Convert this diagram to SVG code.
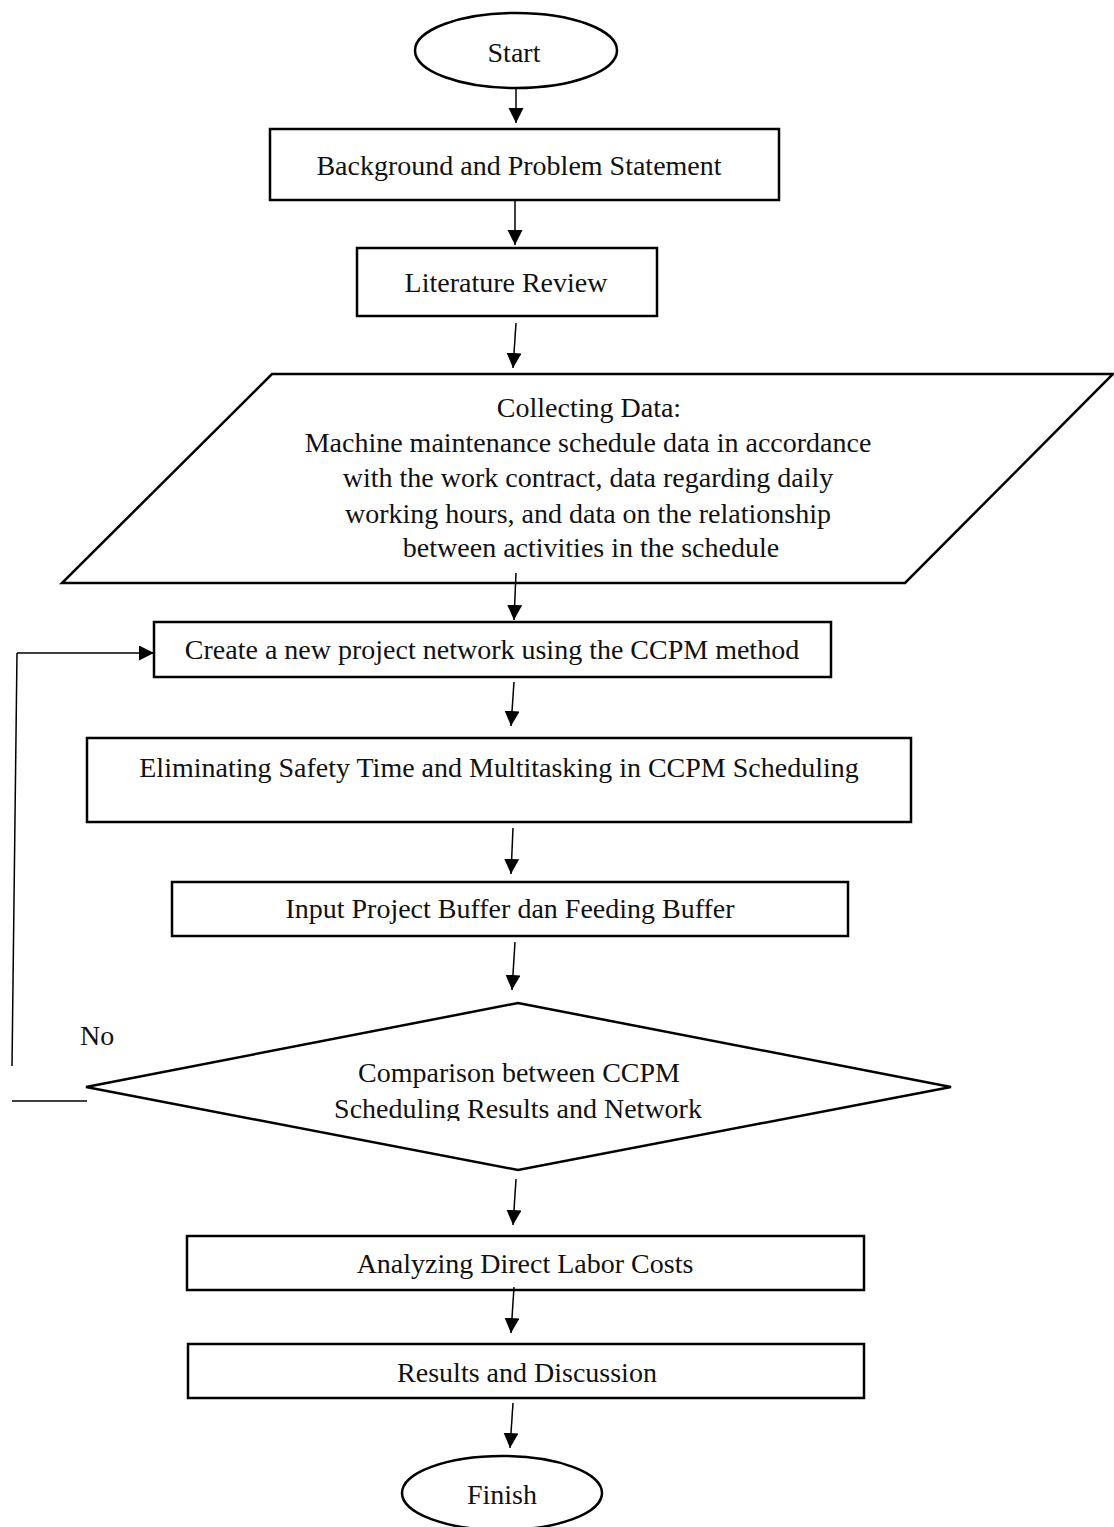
<svg xmlns="http://www.w3.org/2000/svg" width="1114" height="1527" viewBox="0 0 1114 1527">
<style>
.shape{fill:#fff;stroke:#000;stroke-width:2.5}
.conn{fill:none;stroke:#000;stroke-width:1.5}
text{font-family:"Liberation Serif","Times New Roman",serif;font-size:28px;fill:#111;text-anchor:middle}
.left{text-anchor:start}
</style>
<defs>
<marker id="ah" markerUnits="userSpaceOnUse" markerWidth="16" markerHeight="16" refX="15" refY="7.5" orient="auto">
<path d="M0,0 L15,7.5 L0,15 z" fill="#000"/>
</marker>
<clipPath id="dclip"><rect x="0" y="990" width="1114" height="131"/></clipPath>
</defs>
<rect width="1114" height="1527" fill="#fff"/>

<g id="start">
<ellipse class="shape" cx="516" cy="50.5" rx="101" ry="37.5"/>
<text x="514" y="62">Start</text>
</g>

<g id="background">
<rect class="shape" x="270" y="129" width="509" height="71"/>
<text x="519" y="175">Background and Problem Statement</text>
</g>

<g id="literature">
<rect class="shape" x="357" y="248" width="300" height="68"/>
<text x="506" y="292">Literature Review</text>
</g>

<g id="collecting">
<polygon class="shape" points="272,374 1113,374 905,583 62,583"/>
<text x="589" y="417">Collecting Data:</text>
<text x="588" y="452">Machine maintenance schedule data in accordance</text>
<text x="588" y="487">with the work contract, data regarding daily</text>
<text x="588" y="523">working hours, and data on the relationship</text>
<text x="591" y="557">between activities in the schedule</text>
</g>

<g id="create">
<rect class="shape" x="154" y="622" width="677" height="55"/>
<text x="492" y="659">Create a new project network using the CCPM method</text>
</g>

<g id="eliminating">
<rect class="shape" x="87" y="738" width="824" height="84"/>
<text x="499" y="777">Eliminating Safety Time and Multitasking in CCPM Scheduling</text>
</g>

<g id="input">
<rect class="shape" x="172" y="882" width="676" height="54"/>
<text x="510" y="918">Input Project Buffer dan Feeding Buffer</text>
</g>

<g id="comparison">
<polygon class="shape" points="518,1003 951,1087 518,1170 86,1087"/>
<g clip-path="url(#dclip)">
<text x="519" y="1082">Comparison between CCPM</text>
<text x="518" y="1118">Scheduling Results and Network</text>
</g>
</g>

<g id="no-label">
<text class="left" x="80" y="1045">No</text>
</g>

<g id="analyzing">
<rect class="shape" x="187" y="1236" width="677" height="54"/>
<text x="525" y="1273">Analyzing Direct Labor Costs</text>
</g>

<g id="results">
<rect class="shape" x="188" y="1344" width="676" height="54"/>
<text x="527" y="1382">Results and Discussion</text>
</g>

<g id="finish">
<ellipse class="shape" cx="502" cy="1493" rx="100" ry="37"/>
<text x="502" y="1504">Finish</text>
</g>

<g id="connectors">
<line class="conn" x1="516" y1="88" x2="516" y2="123" marker-end="url(#ah)"/>
<line class="conn" x1="515" y1="201" x2="515" y2="245" marker-end="url(#ah)"/>
<line class="conn" x1="516" y1="323" x2="513" y2="368" marker-end="url(#ah)"/>
<line class="conn" x1="516" y1="573" x2="514" y2="620" marker-end="url(#ah)"/>
<line class="conn" x1="514" y1="682" x2="511" y2="726" marker-end="url(#ah)"/>
<line class="conn" x1="513" y1="828" x2="511" y2="874" marker-end="url(#ah)"/>
<line class="conn" x1="515" y1="942" x2="512" y2="990" marker-end="url(#ah)"/>
<line class="conn" x1="516" y1="1179" x2="513" y2="1225" marker-end="url(#ah)"/>
<line class="conn" x1="514" y1="1287" x2="511" y2="1333" marker-end="url(#ah)"/>
<line class="conn" x1="513" y1="1403" x2="510" y2="1448" marker-end="url(#ah)"/>
<line class="conn" x1="12" y1="1066" x2="17" y2="653"/>
<line class="conn" x1="17" y1="653" x2="154" y2="653" marker-end="url(#ah)"/>
<line class="conn" x1="12" y1="1101" x2="87" y2="1101"/>
</g>
</svg>
